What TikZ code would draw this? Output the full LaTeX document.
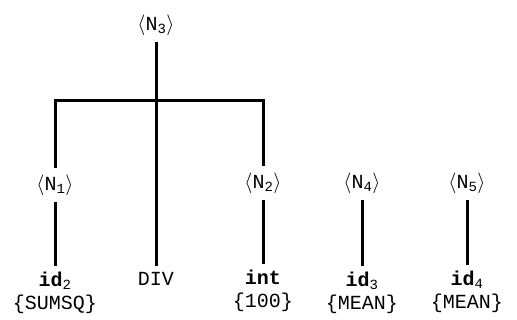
\documentclass[tikz,border=0pt]{standalone}
\usepackage{fontspec}
\setmonofont{Liberation Mono}
\usetikzlibrary{positioning}
\tikzstyle{nonterm} = [
    inner sep=6pt,
    font=\ttfamily\fontsize{20}{23}\selectfont
]
\tikzstyle{term} = [
    inner sep=6pt,
    align=center,
    anchor=north,
    font=\ttfamily\fontsize{20}{23}\selectfont
]
\tikzstyle{branch} = [line width=3pt]
\newcommand{\nt}[1]{$\langle$N\textsubscript{#1}$\rangle$}

\begin{document}
\begin{tikzpicture}[x=1pt, y=-1pt]
\useasboundingbox (0,0) rectangle (517,320);

\node (n3) [nonterm] at (156,25) {\nt{3}};

\node (n1) [nonterm] at (55,185) {\nt{1}};
\node (n2) [nonterm] at (263,183) {\nt{2}};
\node (n4) [nonterm] at (362,183) {\nt{4}};
\node (n5) [nonterm] at (467,183) {\nt{5}};

\coordinate (bar) at (156,101);

\node (div) [term] at (156,266) {DIV};
\node (id2) [term] at (55,266) {\textbf{id}\textsubscript{2}\\\{SUMSQ\}};
\node (int) [term] at (263,264) {\textbf{int}\\\{100\}};
\node (id3) [term] at (362,266) {\textbf{id}\textsubscript{3}\\\{MEAN\}};
\node (id4) [term] at (467,265) {\textbf{id}\textsubscript{4}\\\{MEAN\}};

\draw [branch] (n3) -- (bar) -- (div);
\draw [branch] (n1) |- (bar) -| (n2);

\draw [branch] (n1) -- (id2);
\draw [branch] (n2) -- (int);
\draw [branch] (n4) -- (id3);
\draw [branch] (n5) -- (id4);

\end{tikzpicture}
\end{document}
